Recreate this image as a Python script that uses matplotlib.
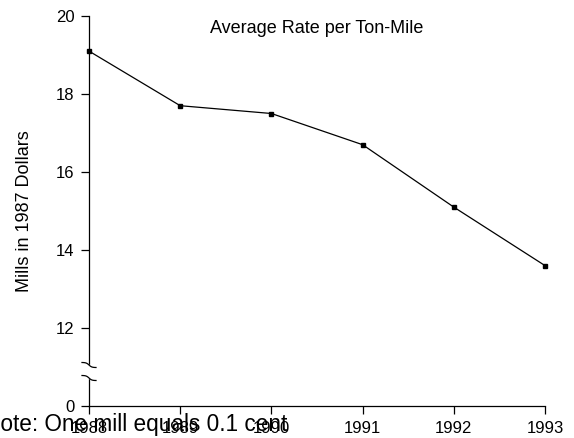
import matplotlib
matplotlib.use("Agg")
import matplotlib.pyplot as plt
import numpy as np

plt.rcParams['font.family'] = ['Liberation Sans', 'DejaVu Sans']

years = [1988, 1989, 1990, 1991, 1992, 1993]
rates = [19.1, 17.7, 17.5, 16.7, 15.1, 13.6]
ytick_vals = [10, 12, 14, 16, 18, 20]
ytick_labels = ["0", "12", "14", "16", "18", "20"]
title = "Average Rate per Ton-Mile"
ylabel = "Mills in 1987 Dollars"
note = "Note: One mill equals 0.1 cent"

fig = plt.figure(figsize=(5.74, 4.38), dpi=100)
W, H = 574, 438
x0, x1, y0, y1 = 89, 545, 406, 16
ax = fig.add_axes([x0 / W, 1 - y0 / H, (x1 - x0) / W, (y0 - y1) / H])

ax.plot(years, rates, color='black', lw=0.9, marker='s', ms=3,
        clip_on=False, zorder=3)
ax.set_xlim(1988, 1993)
ax.set_ylim(10, 20)
ax.set_xticks(years)
ax.set_xticklabels([str(y) for y in years])
ax.set_yticks(ytick_vals)
ax.set_yticklabels(ytick_labels)
for s in ['top', 'right']:
    ax.spines[s].set_visible(False)
for s in ['left', 'bottom']:
    ax.spines[s].set_linewidth(0.9)
ax.tick_params(direction='out', length=6, width=0.9, labelsize=12, pad=4.5)

ax.set_ylabel(ylabel, fontsize=13, labelpad=16.5)
ax.text(0.5, 0.968, title, transform=ax.transAxes, ha='center', va='center',
        fontsize=13)

# axis break on y axis
axh = y0 - y1
axw = x1 - x0
for yp in [365, 378]:
    yc = (y0 - yp) / axh
    t = np.linspace(-1, 1, 40)
    xs = t * 7 / axw
    ys = yc - (np.tanh(2.5 * t) / np.tanh(2.5)) * 2.5 / axh
    ax.plot(xs, ys, transform=ax.transAxes, color='black', lw=0.9,
            clip_on=False, zorder=4)
# gap in spine between marks
gy0 = (y0 - 377) / axh
gy1 = (y0 - 366) / axh
ax.plot([0, 0], [gy0, gy1], transform=ax.transAxes, color='white', lw=2.5,
        clip_on=False, zorder=3.5)

fig.text(-16 / W, (H - 431) / H, note, ha='left', va='baseline', fontsize=16.3)

fig.savefig("out.png", dpi=100)
